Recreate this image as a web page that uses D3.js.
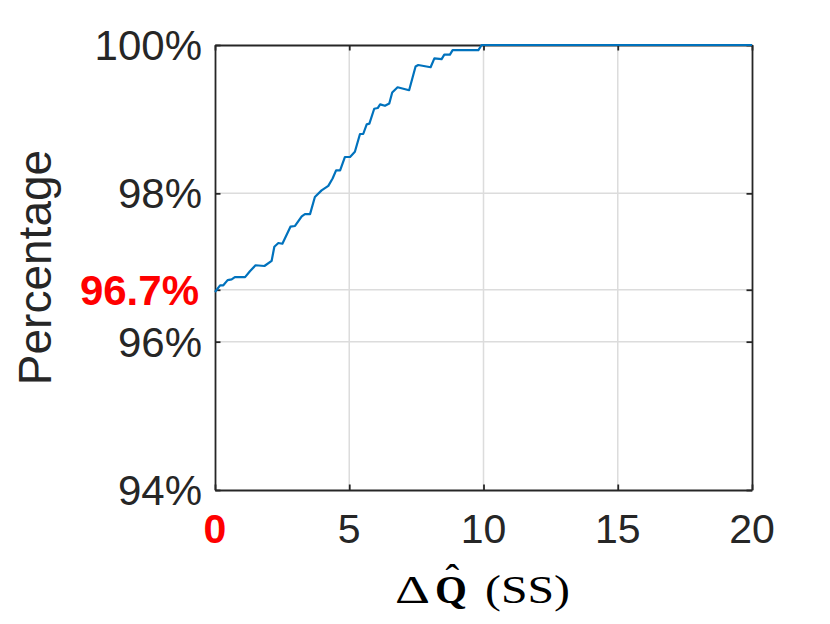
<!DOCTYPE html>
<meta charset="utf-8">
<script src="https://d3js.org/d3.v7.min.js"></script>
<body style="margin: 0; background: #fff;">
<svg id="chart" width="830" height="624"></svg>
</body>

<script>

// delta Q hat (SS) vs cumulative percentage
var dq  = [0, 0.19, 0.31, 0.47, 0.62, 0.74, 1.12, 1.30, 1.51, 1.84, 2.11, 2.21, 2.36, 2.51, 2.81, 2.98,
           3.23, 3.35, 3.54, 3.72, 3.97, 4.22, 4.38, 4.51, 4.66, 4.84, 5.03, 5.21, 5.40, 5.52, 5.65,
           5.75, 5.93, 6.06, 6.15, 6.33, 6.49, 6.60, 6.80, 7.23, 7.47, 7.57, 8.03, 8.17, 8.44, 8.54,
           8.75, 8.85, 9.81, 9.93, 20];
var pct = [96.67, 96.76, 96.76, 96.83, 96.84, 96.87, 96.87, 96.95, 97.03, 97.02, 97.09, 97.28, 97.33, 97.32, 97.55, 97.56,
           97.69, 97.72, 97.72, 97.95, 98.04, 98.10, 98.20, 98.31, 98.31, 98.49, 98.49, 98.56, 98.80, 98.80, 98.93,
           98.94, 99.14, 99.15, 99.20, 99.18, 99.21, 99.36, 99.43, 99.39, 99.71, 99.73, 99.70, 99.82, 99.81, 99.87,
           99.87, 99.93, 99.93, 100, 100];

var xTicks = [0, 5, 10, 15, 20];
var yTicks = [94, 96, 96.7, 98, 100];
var highlightX = 0;
var highlightY = 96.7;

var svg = d3.select("#chart");

var box = {left: 215, right: 752, top: 45, bottom: 490};

var x = d3.scaleLinear().domain([0, 20]).range([box.left, box.right]);
var y = d3.scaleLinear().domain([94, 100]).range([box.bottom, box.top]);

var axisColor = "#262626";
var font = "'Liberation Sans', Arial, Helvetica, sans-serif";

// grid
var grid = svg.append("g").attr("stroke", "#dcdcdc").attr("stroke-width", 1.5);
grid.selectAll("line.gx")
    .data(xTicks.filter(function(d) { return d > 0 && d < 20; }))
    .join("line")
      .attr("class", "gx")
      .attr("x1", function(d) { return x(d); })
      .attr("x2", function(d) { return x(d); })
      .attr("y1", box.top)
      .attr("y2", box.bottom);
grid.selectAll("line.gy")
    .data(yTicks.filter(function(d) { return d > 94 && d < 100; }))
    .join("line")
      .attr("class", "gy")
      .attr("y1", function(d) { return y(d); })
      .attr("y2", function(d) { return y(d); })
      .attr("x1", box.left)
      .attr("x2", box.right);

// axes with inward ticks, box on all four sides
var tickLen = 5.5;
var bottomAxis = d3.axisBottom(x).tickValues(xTicks).tickSizeInner(-tickLen).tickSizeOuter(0).tickFormat("");
var topAxis = d3.axisTop(x).tickValues(xTicks).tickSizeInner(-tickLen).tickSizeOuter(0).tickFormat("");
var leftAxis = d3.axisLeft(y).tickValues(yTicks).tickSizeInner(-tickLen).tickSizeOuter(0).tickFormat("");
var rightAxis = d3.axisRight(y).tickValues(yTicks).tickSizeInner(-tickLen).tickSizeOuter(0).tickFormat("");

[[bottomAxis, "translate(0," + box.bottom + ")"],
 [topAxis, "translate(0," + box.top + ")"],
 [leftAxis, "translate(" + box.left + ",0)"],
 [rightAxis, "translate(" + box.right + ",0)"]].forEach(function(a) {
  var g = svg.append("g").attr("transform", a[1]).call(a[0]);
  g.select(".domain").attr("stroke", axisColor).attr("stroke-width", 1.8);
  g.selectAll(".tick line").attr("stroke", axisColor).attr("stroke-width", 1.8);
});

// data line
var line = d3.line()
    .x(function(d, i) { return x(dq[i]); })
    .y(function(d, i) { return y(pct[i]); });

svg.append("path")
    .datum(dq)
    .attr("fill", "none")
    .attr("stroke", "#0072BD")
    .attr("stroke-width", 2.2)
    .attr("stroke-linejoin", "round")
    .attr("d", line);

// tick labels
svg.append("g").selectAll("text")
    .data(xTicks)
    .join("text")
      .attr("x", function(d) { return x(d); })
      .attr("y", 543)
      .attr("text-anchor", "middle")
      .style("font-family", font)
      .style("font-size", "41px")
      .style("font-weight", function(d) { return d === highlightX ? "bold" : "normal"; })
      .attr("fill", function(d) { return d === highlightX ? "#ff0000" : axisColor; })
      .text(function(d) { return d; });

svg.append("g").selectAll("text")
    .data(yTicks)
    .join("text")
      .attr("x", function(d) { return d === highlightY ? 199 : 202; })
      .attr("y", function(d) { return y(d); })
      .attr("dy", "0.36em")
      .attr("text-anchor", "end")
      .style("font-family", font)
      .style("font-size", "42px")
      .style("font-weight", function(d) { return d === highlightY ? "bold" : "normal"; })
      .attr("fill", function(d) { return d === highlightY ? "#ff0000" : axisColor; })
      .text(function(d) { return d + "%"; });

// axis titles
svg.append("text")
    .attr("transform", "translate(51," + (box.top + box.bottom) / 2 + ") rotate(-90)")
    .attr("text-anchor", "middle")
    .style("font-family", font)
    .style("font-size", "46px")
    .attr("fill", axisColor)
    .text("Percentage");

// x title: Delta, bold Q with a hat, (SS), fitted to the LaTeX widths
var serif = "'Liberation Serif', 'DejaVu Serif', serif";

svg.append("text")
    .attr("x", 395).attr("y", 603)
    .attr("textLength", 35).attr("lengthAdjust", "spacingAndGlyphs")
    .style("font-family", serif).style("font-size", "41px")
    .attr("fill", "#000")
    .text("\u0394");

var qt = svg.append("text")
    .attr("x", 435).attr("y", 603)
    .style("font-family", serif).style("font-size", "41px")
    .attr("fill", "#000");
qt.append("tspan").style("font-weight", "bold").text("Q");
qt.append("tspan").attr("x", 445.5).attr("dy", -11).text("\u02C6");

svg.append("text")
    .attr("x", 485).attr("y", 603)
    .attr("textLength", 85).attr("lengthAdjust", "spacingAndGlyphs")
    .style("font-family", serif).style("font-size", "41px")
    .attr("fill", "#000")
    .text("(SS)");

</script>
